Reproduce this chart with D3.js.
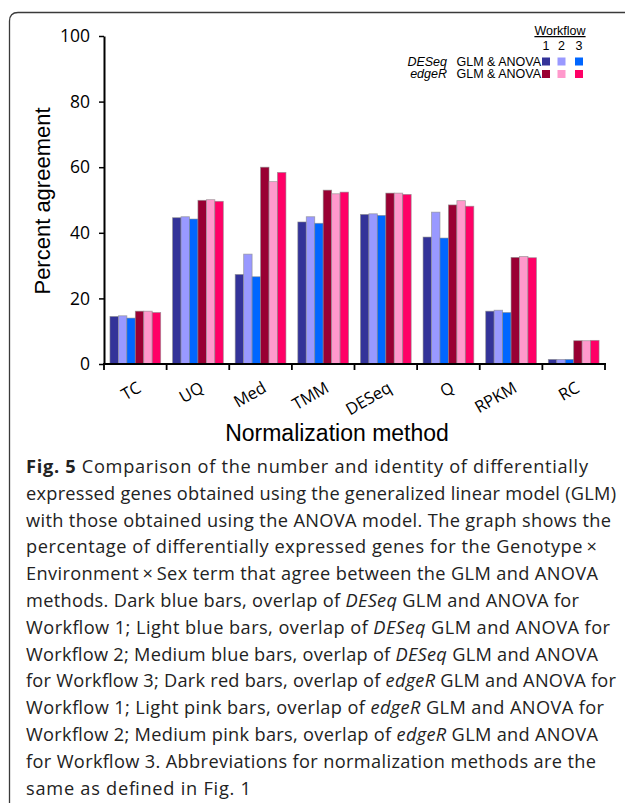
<!DOCTYPE html>
<html>
<head>
<meta charset="utf-8">
<script src="https://cdn.jsdelivr.net/npm/d3@7"></script>
<style>
  body { margin: 0; background: #fff; }
</style>
</head>
<body>
<div id="chart"></div>
<script>
// data
const methods = ["TC", "UQ", "Med", "TMM", "DESeq", "Q", "RPKM", "RC"];
const seriesKeys = ["deseq1", "deseq2", "deseq3", "edger1", "edger2", "edger3"];
const seriesColors = ["#333399", "#9999ff", "#0066ff", "#990033", "#ff99cc", "#ff0066"];
const deseqW1 = [14.5, 44.6, 27.3, 43.3, 45.6, 38.7, 16.1, 1.4];
const deseqW2 = [14.7, 44.9, 33.5, 44.9, 45.8, 46.3, 16.4, 1.4];
const deseqW3 = [14.0, 44.2, 26.6, 42.9, 45.3, 38.4, 15.7, 1.4];
const edgerW1 = [16.1, 49.9, 60.0, 53.0, 52.1, 48.5, 32.5, 7.1];
const edgerW2 = [16.1, 50.1, 55.6, 51.9, 52.1, 49.8, 32.8, 7.1];
const edgerW3 = [15.7, 49.6, 58.4, 52.4, 51.7, 48.1, 32.4, 7.2];
const yTicks = [0, 20, 40, 60, 80, 100];
const workflows = ["1", "2", "3"];
const legendRows = [
  { tool: "DESeq", keys: ["deseq1", "deseq2", "deseq3"] },
  { tool: "edgeR", keys: ["edger1", "edger2", "edger3"] }
];

// caption lines, each a list of [text, style]
const caption = [
  [["Fig. 5", "b"], [" Comparison of the number and identity of differentially", ""]],
  [["expressed genes obtained using the generalized linear model (GLM)", ""]],
  [["with those obtained using the ANOVA model. The graph shows the", ""]],
  [["percentage of differentially expressed genes for the Genotype\u2009\u00d7", ""]],
  [["Environment\u2009\u00d7\u2009Sex term that agree between the GLM and ANOVA", ""]],
  [["methods. Dark blue bars, overlap of ", ""], ["DESeq", "i"], [" GLM and ANOVA for", ""]],
  [["Workflow 1; Light blue bars, overlap of ", ""], ["DESeq", "i"], [" GLM and ANOVA for", ""]],
  [["Workflow 2; Medium blue bars, overlap of ", ""], ["DESeq", "i"], [" GLM and ANOVA", ""]],
  [["for Workflow 3; Dark red bars, overlap of ", ""], ["edgeR", "i"], [" GLM and ANOVA for", ""]],
  [["Workflow 1; Light pink bars, overlap of ", ""], ["edgeR", "i"], [" GLM and ANOVA for", ""]],
  [["Workflow 2; Medium pink bars, overlap of ", ""], ["edgeR", "i"], [" GLM and ANOVA", ""]],
  [["for Workflow 3. Abbreviations for normalization methods are the", ""]],
  [["same as defined in Fig. 1", ""]]
];
// right end of each caption line
const captionEnds = [588, 616, 611, 597, 598, 579, 610, 598, 616, 604, 598, 596, 251];

const seriesValues = [deseqW1, deseqW2, deseqW3, edgerW1, edgerW2, edgerW3];
const table = methods.map((m, i) => {
  const row = { method: m };
  seriesKeys.forEach((k, j) => { row[k] = seriesValues[j][i]; });
  return row;
});

const width = 625, height = 803;
const chartFont = "'Open Sans', 'Noto Sans', sans-serif";
const labelFont = "'Liberation Sans', Arial, sans-serif";

const svg = d3.select("#chart").append("svg")
  .attr("width", width)
  .attr("height", height);

// frame
svg.append("path")
  .attr("d", "M9.5,803 V21 Q9.5,12.5 18,12.5 H625")
  .attr("fill", "none")
  .attr("stroke", "#3a3a3a")
  .attr("stroke-width", 1.3);

// scales
const x = d3.scaleBand()
  .domain(methods)
  .range([104, 605])
  .paddingInner(0.19)
  .paddingOuter(0.095);
const xs = d3.scaleBand()
  .domain(seriesKeys)
  .range([0, x.bandwidth()]);
const y = d3.scaleLinear()
  .domain([0, 100])
  .range([364, 36]);
const color = d3.scaleOrdinal()
  .domain(seriesKeys)
  .range(seriesColors);

// bars
const groupBars = svg.append("g").attr("class", "groupBars");
groupBars.selectAll("g")
  .data(table)
  .join("g")
  .attr("transform", d => `translate(${x(d.method)},0)`)
  .selectAll("rect")
  .data(d => seriesKeys.map(k => ({ key: k, value: d[k] })))
  .join("rect")
  .attr("x", d => xs(d.key))
  .attr("y", d => y(d.value))
  .attr("width", xs.bandwidth())
  .attr("height", d => y(0) - y(d.value))
  .attr("fill", d => color(d.key))
  .attr("stroke", "#8a8a8a")
  .attr("stroke-opacity", 0.7)
  .attr("stroke-width", 0.8);

// y axis
svg.append("g")
  .attr("transform", "translate(104,0)")
  .call(d3.axisLeft(y).tickValues(yTicks).tickSize(5).tickSizeOuter(0).tickPadding(9))
  .call(g => g.select(".domain").attr("stroke-width", 2))
  .call(g => g.selectAll(".tick line").attr("stroke-width", 1.5))
  .call(g => g.selectAll(".tick text")
    .attr("font-family", chartFont)
    .attr("font-size", 17.5)
    .attr("fill", "#000"));

// x axis: line with ticks at category boundaries
const step = x.step();
const boundaries = methods.map(m => x(m) - step * x.paddingInner() / 2)
  .concat([x(methods[methods.length - 1]) + x.bandwidth() + step * x.paddingInner() / 2]);
const groupAxisX = svg.append("g").attr("class", "groupAxisX");
groupAxisX.append("line")
  .attr("x1", x.range()[0] - 1).attr("x2", x.range()[1] + 1)
  .attr("y1", y(0)).attr("y2", y(0))
  .attr("stroke", "#000").attr("stroke-width", 2);
groupAxisX.selectAll("line.tick")
  .data(boundaries)
  .join("line")
  .attr("class", "tick")
  .attr("x1", d => d).attr("x2", d => d)
  .attr("y1", y(0)).attr("y2", y(0) + 6)
  .attr("stroke", "#000").attr("stroke-width", 1.8);
groupAxisX.selectAll("text")
  .data(methods)
  .join("text")
  .attr("transform", d => `translate(${x(d) + x.bandwidth() / 2 + 7},${y(0) + 27}) rotate(-30)`)
  .attr("text-anchor", "end")
  .attr("font-family", chartFont)
  .attr("font-size", 16.5)
  .attr("fill", "#000")
  .text(d => d);

// axis titles
svg.append("text")
  .attr("transform", "translate(50,201) rotate(-90)")
  .attr("text-anchor", "middle")
  .attr("font-family", labelFont)
  .attr("font-size", 22)
  .attr("fill", "#000")
  .text("Percent agreement");
svg.append("text")
  .attr("x", 337)
  .attr("y", 441)
  .attr("text-anchor", "middle")
  .attr("font-family", labelFont)
  .attr("font-size", 23)
  .attr("fill", "#000")
  .text("Normalization method");

// legend
const swatchX = [542, 557.5, 575];
const legend = svg.append("g")
  .attr("class", "legend")
  .attr("font-family", labelFont)
  .attr("font-size", 12.5)
  .attr("fill", "#000");
legend.append("text")
  .attr("x", 560).attr("y", 35)
  .attr("text-anchor", "middle")
  .attr("text-decoration", "underline")
  .text("Workflow");
legend.selectAll("text.wf")
  .data(workflows)
  .join("text")
  .attr("class", "wf")
  .attr("x", (d, i) => swatchX[i] + 4)
  .attr("y", 50)
  .attr("text-anchor", "middle")
  .text(d => d);
const rows = legend.selectAll("g.row")
  .data(legendRows)
  .join("g")
  .attr("class", "row")
  .attr("transform", (d, i) => `translate(0,${57.5 + i * 12.5})`);
rows.append("text")
  .attr("x", 447).attr("y", 8)
  .attr("text-anchor", "end")
  .attr("font-style", "italic")
  .text(d => d.tool);
rows.append("text")
  .attr("x", 541).attr("y", 8)
  .attr("text-anchor", "end")
  .text("GLM & ANOVA");
rows.selectAll("rect")
  .data(d => d.keys)
  .join("rect")
  .attr("x", (d, i) => swatchX[i])
  .attr("y", 0)
  .attr("width", 8)
  .attr("height", 8)
  .attr("fill", d => color(d));

// caption
const cap = svg.append("g")
  .attr("class", "caption")
  .attr("font-family", chartFont)
  .attr("font-size", 18.2)
  .attr("fill", "#222");
cap.selectAll("text")
  .data(caption)
  .join("text")
  .attr("x", 26)
  .attr("y", (d, i) => 473 + i * 26.8)
  .attr("textLength", (d, i) => captionEnds[i] - 26)
  .attr("lengthAdjust", "spacing")
  .selectAll("tspan")
  .data(d => d)
  .join("tspan")
  .attr("font-weight", d => d[1] === "b" ? 700 : 400)
  .attr("font-style", d => d[1] === "i" ? "italic" : "normal")
  .text(d => d[0]);
</script>
</body>
</html>
